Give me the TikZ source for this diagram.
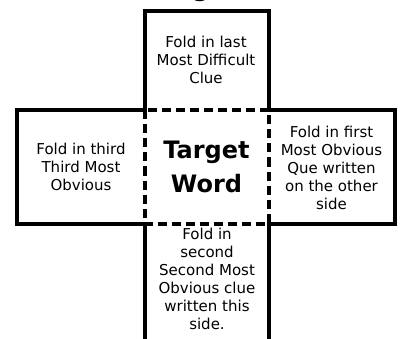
\documentclass[tikz,border=0pt]{standalone}
\usepackage{fontspec}
\setmainfont{DejaVu Sans}
\begin{document}
\begin{tikzpicture}[x=1pt,y=-1pt,
  edge/.style={line width=4pt,line cap=rect,line join=miter},
  foldline/.style={line width=4pt,dash pattern=on 9pt off 5pt},
  label/.style={align=center,inner sep=0pt,font=\fontsize{15}{18}\selectfont},
  target/.style={align=center,inner sep=0pt,font=\fontsize{24}{34}\selectfont\bfseries}]
\useasboundingbox (0,0) rectangle (401,339);
% partially visible title glyph (only its descender shows)
\node[anchor=base,inner sep=0pt,font=\fontsize{24}{28}\selectfont\bfseries] (title) at (201,-3.5) {g};
% dashed centre square
\draw[foldline] (144.5,110.5) rectangle (268.5,223.5);
% top flap
\draw[edge] (144.5,110.5) -- (144.5,11) -- (268.5,11) -- (268.5,110.5);
% left flap
\draw[edge] (144.5,110.5) -- (17,110.5) -- (17,223.5) -- (144.5,223.5);
% right flap
\draw[edge] (268.5,110.5) -- (394.5,110.5) -- (394.5,223.5) -- (268.5,223.5);
% bottom flap
\draw[edge] (144.5,223.5) -- (144.5,350);
\draw[edge] (268.5,223.5) -- (268.5,350);
% texts
\node[label] (top) at (206,60) {Fold in last\\Most Difficult\\Clue};
\node[label] (left) at (81,166.5) {Fold in third\\Third Most\\Obvious};
\node[label] (right) at (331.5,167.5) {Fold in first\\Most Obvious\\Que written\\on the other\\side};
\node[target] (centre) at (206.5,167) {Target\\Word};
\node[label] (bottom) at (207,279) {Fold in\\second\\Second Most\\Obvious clue\\written this\\side.};
\end{tikzpicture}
\end{document}
